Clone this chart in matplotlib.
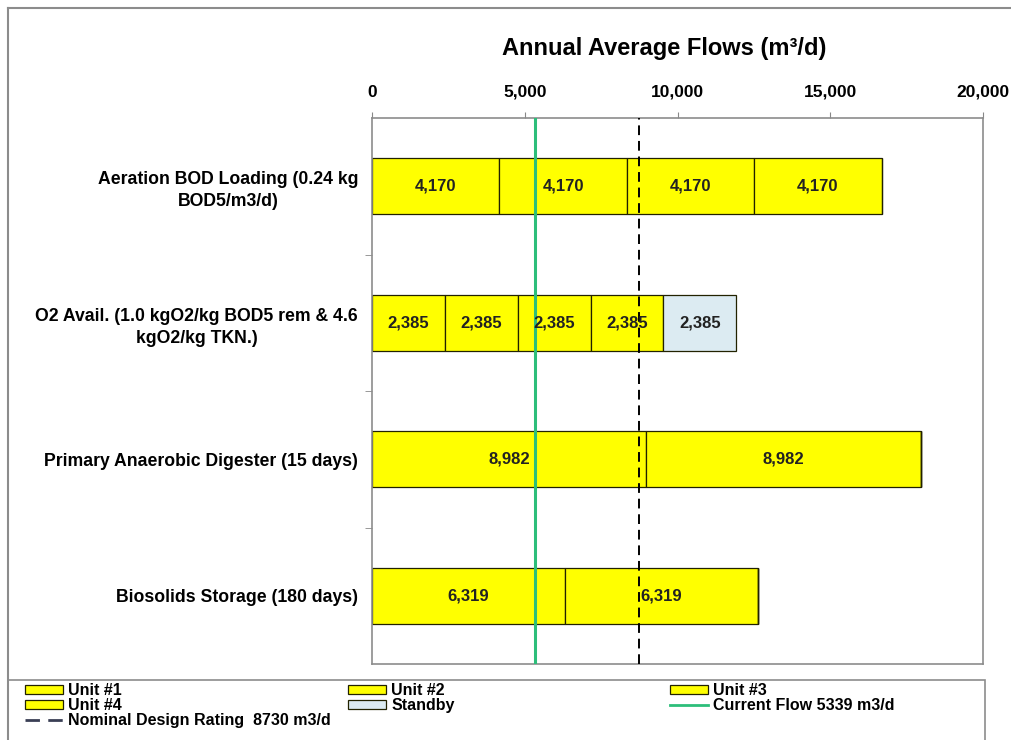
"""Annual average flows — unit capacity stacked bars"""
import matplotlib
matplotlib.use("Agg")
import matplotlib.pyplot as plt
import matplotlib as mpl
from matplotlib.patches import Patch, Rectangle
from matplotlib.lines import Line2D
from matplotlib.ticker import FuncFormatter, FixedLocator

mpl.rcParams.update({
    "font.family": ["Liberation Sans", "DejaVu Sans"],
    "font.weight": "bold",
    "font.size": 12,
})

# ── data ──
categories = [
    "Aeration BOD Loading (0.24 kg\nBOD5/m3/d)",
    "O2 Avail. (1.0 kgO2/kg BOD5 rem & 4.6\nkgO2/kg TKN.)",
    "Primary Anaerobic Digester (15 days)",
    "Biosolids Storage (180 days)",
]
unit1 = [4170, 2385, 8982, 6319]
unit2 = [4170, 2385, 8982, 6319]
unit3 = [4170, 2385, 0, 0]
unit4 = [4170, 2385, 0, 0]
standby = [0, 2385, 0, 0]
current_flow = 5339
design_rating = 8730
xticks = [0, 5000, 10000, 15000, 20000]

series = [
    ("Unit #1", unit1, "#FFFF00"),
    ("Unit #2", unit2, "#FFFF00"),
    ("Unit #3", unit3, "#FFFF00"),
    ("Unit #4", unit4, "#FFFF00"),
    ("Standby", standby, "#DCEBF2"),
]
GREEN = "#2DBE7A"

fig = plt.figure(figsize=(10.12, 7.40), dpi=100)
ax = fig.add_axes([372 / 1012, 1 - 664 / 740, 611 / 1012, 546 / 740])

y = list(range(len(categories)))
left = [0] * len(categories)
handles = {}
for name, vals, color in series:
    ax.barh(y, vals, left=left, height=0.41, color=color,
            edgecolor="#222200", linewidth=0.9, zorder=2)
    for i, v in enumerate(vals):
        if v > 0:
            ax.text(left[i] + v / 2, y[i], f"{v:,}", ha="center", va="center",
                    fontsize=12, fontweight="bold", color="#222222", zorder=5)
    left = [a + b for a, b in zip(left, vals)]
    handles[name] = Patch(facecolor=color, edgecolor="#222200", linewidth=0.9)

ax.axvline(current_flow, color=GREEN, linewidth=2.2, zorder=4)
ax.axvline(design_rating, color="black", linewidth=1.4, linestyle=(0, (5, 3)), zorder=4)

ax.set_xlim(0, 20000)
ax.set_ylim(len(categories) - 0.5, -0.5)

# x axis on top
ax.xaxis.tick_top()
ax.set_xticks(xticks)
ax.xaxis.set_major_formatter(FuncFormatter(lambda v, p: f"{int(v):,}"))
ax.tick_params(axis="x", direction="out", length=4, color="#888888", pad=9,
               labelsize=12.5)

# y axis: labels at categories, ticks at boundaries
ax.set_yticks(y)
ax.set_yticklabels(categories)
ax.tick_params(axis="y", which="major", length=0, pad=10, labelsize=12.7)
ax.yaxis.set_minor_locator(FixedLocator([0.5, 1.5, 2.5]))
ax.tick_params(axis="y", which="minor", length=5, color="#888888", direction="out")
for lab in ax.get_yticklabels():
    lab.set_multialignment("center")
    lab.set_linespacing(1.4)
    lab.set_fontweight("bold")
for lab in ax.get_xticklabels():
    lab.set_fontweight("bold")

for s in ax.spines.values():
    s.set_color("#8c8c8c")
    s.set_linewidth(1.2)

fig.text(664 / 1012, 1 - 48 / 740, "Annual Average Flows (m\u00b3/d)", ha="center",
         va="center", fontsize=17, fontweight="bold")

# legend: three columns placed like the spreadsheet's fixed-width layout
handles["Current Flow 5339 m3/d"] = Line2D([], [], color=GREEN, linewidth=2)
handles["Nominal Design Rating  8730 m3/d"] = Line2D([], [], color="#3a3f55",
                                                     linewidth=2, linestyle=(0, (5.2, 3)))
columns = [
    (25, ["Unit #1", "Unit #4", "Nominal Design Rating  8730 m3/d"]),
    (348, ["Unit #2", "Standby"]),
    (670, ["Unit #3", "Current Flow 5339 m3/d"]),
]
for xpx, names in columns:
    leg = fig.legend([handles[k] for k in names], names, loc="upper left",
                     bbox_to_anchor=(xpx / 1012, 1 - 683 / 740), frameon=False,
                     borderaxespad=0, borderpad=0, fontsize=11.5,
                     handlelength=2.4, handleheight=0.5, handletextpad=0.3,
                     labelspacing=0.0)
    for t in leg.get_texts():
        t.set_fontweight("bold")

fig.add_artist(Rectangle((8 / 1012, -0.05), 977 / 1012, 0.05 + (740 - 680) / 740,
                         transform=fig.transFigure, fill=False,
                         edgecolor="#8c8c8c", linewidth=1.2))

# outer chart frame
fig.add_artist(Line2D([8 / 1012, 8 / 1012], [0, 1 - 8 / 740], color="#8c8c8c", linewidth=1.5))
fig.add_artist(Line2D([8 / 1012, 1], [1 - 8 / 740, 1 - 8 / 740], color="#8c8c8c", linewidth=1.5))

fig.savefig("out.png", dpi=100)
print("OK")
